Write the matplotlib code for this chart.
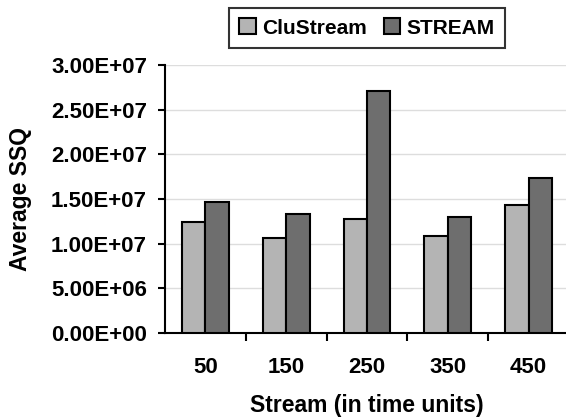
import numpy as np
import matplotlib
matplotlib.use("Agg")
import matplotlib.pyplot as plt

plt.rcParams['font.family'] = ['Liberation Sans', 'DejaVu Sans']
plt.rcParams['font.weight'] = 'bold'

streams = ['50', '150', '250', '350', '450']
clustream = [12.4e6, 10.6e6, 12.8e6, 10.9e6, 14.3e6]
stream = [14.7e6, 13.3e6, 27.1e6, 13.0e6, 17.4e6]
yticks = [0, 5e6, 10e6, 15e6, 20e6, 25e6, 30e6]

fig = plt.figure(figsize=(5.66, 4.2), dpi=100)
ax = fig.add_axes([165 / 566, 87 / 420, 404 / 566, 268 / 420])

x = np.arange(len(streams))
w = 0.29
ax.bar(x - w / 2, clustream, w, color='#b4b4b4', edgecolor='black',
       linewidth=1.5, label='CluStream', zorder=3)
ax.bar(x + w / 2, stream, w, color='#6e6e6e', edgecolor='black',
       linewidth=1.5, label='STREAM', zorder=3)

ax.set_xlim(-0.5, len(streams) - 0.5)
ax.set_ylim(0, 30e6)
ax.set_yticks(yticks)
ax.set_yticklabels(['{:.2E}'.format(v) for v in yticks], fontsize=16,
                   fontweight='bold')
ax.yaxis.grid(True, color='#dddddd', linewidth=1, zorder=0)

# category labels, with ticks on the group boundaries
ax.set_xticks(x)
ax.set_xticklabels(streams, fontsize=16, fontweight='bold')
ax.tick_params(axis='x', length=0, pad=17)
ax.set_xticks(np.arange(len(streams)) + 0.5, minor=True)
ax.tick_params(axis='x', which='minor', length=6, width=1.5, direction='out')
ax.tick_params(axis='y', length=5, width=1.5, direction='out', pad=8)

for side in ['top', 'right']:
    ax.spines[side].set_visible(False)
for side in ['left', 'bottom']:
    ax.spines[side].set_linewidth(1.5)

ax.set_ylabel('Average SSQ', fontsize=16.5, fontweight='bold', labelpad=14)
ax.set_xlabel('Stream (in time units)', fontsize=16.5, fontweight='bold',
              labelpad=12)

leg = fig.legend(loc='center', bbox_to_anchor=(367 / 566, 1 - 28 / 420),
                 ncol=2, frameon=True, fancybox=False,
                 handlelength=0.8, handleheight=0.8, handletextpad=0.3,
                 columnspacing=0.8, borderpad=0.5,
                 prop={'weight': 'bold', 'size': 15})
leg.get_frame().set_edgecolor('black')
leg.get_frame().set_linewidth(1.5)

fig.savefig('out.png', dpi=100)
